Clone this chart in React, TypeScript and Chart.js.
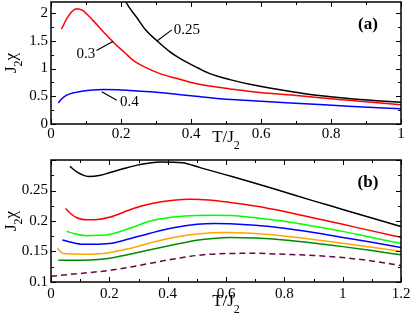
import React, { useEffect, useRef } from "react";
import { Chart, registerables } from "chart.js";

Chart.register(...registerables);

const FONT = '"Liberation Serif", "Times New Roman", serif';

// ---------- Panel (a) data ----------
const A_T_025 = [0.2, 0.214, 0.245, 0.27, 0.302, 0.34, 0.378, 0.42, 0.454, 0.511, 0.597, 0.68, 0.74, 0.85, 0.93, 1.0];
const A_CHI_025 = [2.42, 2.2, 1.92, 1.7, 1.505, 1.3, 1.147, 1.01, 0.908, 0.8, 0.68, 0.59, 0.53, 0.46, 0.42, 0.39];

const A_T_03 = [0.03, 0.045, 0.06, 0.073, 0.09, 0.121, 0.15, 0.178, 0.21, 0.235, 0.27, 0.311, 0.36, 0.407, 0.483, 0.511, 0.597, 0.71, 0.74, 0.85, 1.0];
const A_CHI_03 = [1.71, 1.9, 2.03, 2.08, 2.05, 1.86, 1.66, 1.475, 1.29, 1.147, 1.02, 0.908, 0.82, 0.74, 0.657, 0.633, 0.568, 0.51, 0.49, 0.43, 0.345];

const A_T_04 = [0.021, 0.03, 0.045, 0.07, 0.092, 0.12, 0.15, 0.2, 0.283, 0.4, 0.483, 0.6, 0.74, 0.85, 1.0];
const A_CHI_04 = [0.38, 0.45, 0.52, 0.57, 0.597, 0.613, 0.62, 0.615, 0.58, 0.51, 0.455, 0.41, 0.36, 0.32, 0.275];

const A_NOTE_TEXT = ["0.25", "0.3", "0.4"];
const A_NOTE_X = [0.351, 0.073, 0.197];
const A_NOTE_Y = [1.685, 1.267, 0.4];
const A_LEAD_X0 = [0.302, 0.13, 0.145];
const A_LEAD_Y0 = [1.493, 1.326, 0.58];
const A_LEAD_X1 = [0.345, 0.178, 0.188];
const A_LEAD_Y1 = [1.697, 1.493, 0.43];

// ---------- Panel (b) data ----------
const B_T_1 = [0.065, 0.09, 0.128, 0.17, 0.2, 0.25, 0.3, 0.374, 0.45, 0.511, 0.597, 0.7, 0.8, 0.9, 1.0, 1.1, 1.2];
const B_CHI_1 = [0.2895, 0.28, 0.273, 0.275, 0.279, 0.286, 0.292, 0.2967, 0.2955, 0.2875, 0.276, 0.262, 0.2475, 0.233, 0.219, 0.205, 0.191];

const B_T_2 = [0.05, 0.07, 0.09, 0.122, 0.16, 0.2, 0.285, 0.35, 0.42, 0.477, 0.54, 0.614, 0.7, 0.8, 0.9, 1.0, 1.1, 1.2];
const B_CHI_2 = [0.2205, 0.211, 0.205, 0.202, 0.2025, 0.206, 0.221, 0.229, 0.234, 0.2355, 0.2345, 0.2305, 0.2245, 0.2155, 0.205, 0.1945, 0.1838, 0.1733];

const B_T_3 = [0.054, 0.08, 0.122, 0.16, 0.2, 0.27, 0.34, 0.42, 0.5, 0.56, 0.614, 0.7, 0.8, 0.9, 1.0, 1.1, 1.2];
const B_CHI_3 = [0.1833, 0.179, 0.176, 0.1765, 0.178, 0.188, 0.2, 0.2065, 0.2092, 0.2095, 0.209, 0.2055, 0.1995, 0.1915, 0.183, 0.173, 0.1633];

const B_T_4 = [0.039, 0.07, 0.11, 0.145, 0.2, 0.27, 0.34, 0.42, 0.5, 0.56, 0.614, 0.7, 0.8, 0.9, 1.0, 1.1, 1.2];
const B_CHI_4 = [0.169, 0.165, 0.1618, 0.1617, 0.163, 0.171, 0.18, 0.189, 0.1945, 0.196, 0.1955, 0.193, 0.188, 0.181, 0.173, 0.165, 0.1567];

const B_T_5 = [0.022, 0.03, 0.042, 0.07, 0.11, 0.15, 0.2, 0.27, 0.34, 0.42, 0.51, 0.6, 0.7, 0.8, 0.9, 1.0, 1.1, 1.2];
const B_CHI_5 = [0.1555, 0.151, 0.1467, 0.1458, 0.1455, 0.146, 0.148, 0.155, 0.164, 0.173, 0.179, 0.181, 0.1795, 0.1755, 0.1695, 0.1635, 0.157, 0.15];

const B_T_6 = [0.025, 0.06, 0.11, 0.16, 0.2, 0.27, 0.34, 0.42, 0.5, 0.556, 0.614, 0.7, 0.8, 0.9, 1.0, 1.1, 1.2];
const B_CHI_6 = [0.1355, 0.1355, 0.1358, 0.137, 0.139, 0.1455, 0.153, 0.161, 0.1685, 0.1715, 0.1728, 0.172, 0.169, 0.164, 0.158, 0.1515, 0.1445];

const B_T_7 = [0.0, 0.1, 0.2, 0.3, 0.4, 0.5, 0.6, 0.7, 0.8, 0.9, 1.0, 1.1, 1.2];
const B_CHI_7 = [0.1095, 0.114, 0.119, 0.127, 0.136, 0.1435, 0.1467, 0.147, 0.1455, 0.1435, 0.14, 0.1345, 0.127];

const pts = (xs: number[], ys: number[]) => xs.map((x, i) => ({ x, y: ys[i] }));

const line = (xs: number[], ys: number[], color: string, dash: number[] = []) => ({
  data: pts(xs, ys),
  borderColor: color,
  borderWidth: 1.5,
  borderDash: dash,
  pointRadius: 0,
  fill: false,
  cubicInterpolationMode: "monotone" as const,
});

const fmt = (v: number) => String(Math.round(v * 1000) / 1000);

type PanelProps = {
  top: number;
  height: number;
  datasets: any[];
  xMax: number;
  xLabelStep: number;
  xMinorStep: number;
  yMin: number;
  yMax: number;
  yLabelStep: number;
  yMinorStep: number;
  tag: string;
  xLabelPad: number;
  xTitleOffset: number;
  notes?: {
    text: string[];
    x: number[];
    y: number[];
    x0: number[];
    y0: number[];
    x1: number[];
    y1: number[];
  };
};

function Panel(p: PanelProps) {
  const ref = useRef<HTMLCanvasElement>(null);
  useEffect(() => {
    if (!ref.current) return;
    const decor = {
      id: "decor",
      afterDraw(chart: any) {
        const ctx = chart.ctx as CanvasRenderingContext2D;
        const { left, right, top, bottom } = chart.chartArea;
        const xs = chart.scales.x;
        const ys = chart.scales.y;
        ctx.save();
        ctx.strokeStyle = "#000";
        ctx.fillStyle = "#000";
        ctx.lineWidth = 1.5;
        ctx.strokeRect(left, top, right - left, bottom - top);
        ctx.lineWidth = 1;
        const isMajor = (v: number, step: number) => Math.abs(v / step - Math.round(v / step)) < 1e-6;
        // x ticks
        const nx = Math.floor((xs.max - xs.min) / p.xMinorStep + 1e-6);
        for (let i = 0; i <= nx; i++) {
          const v = xs.min + i * p.xMinorStep;
          const px = Math.round(xs.getPixelForValue(v)) + 0.5;
          const len = isMajor(v, p.xLabelStep) ? 5 : 3;
          ctx.beginPath();
          ctx.moveTo(px, bottom);
          ctx.lineTo(px, bottom - len);
          ctx.moveTo(px, top);
          ctx.lineTo(px, top + len);
          ctx.stroke();
        }
        const ny = Math.floor((ys.max - ys.min) / p.yMinorStep + 1e-6);
        for (let i = 0; i <= ny; i++) {
          const v = ys.min + i * p.yMinorStep;
          const py = Math.round(ys.getPixelForValue(v)) + 0.5;
          const len = isMajor(v - ys.min, p.yLabelStep) ? 5 : 3;
          ctx.beginPath();
          ctx.moveTo(left, py);
          ctx.lineTo(left + len, py);
          ctx.moveTo(right, py);
          ctx.lineTo(right - len, py);
          ctx.stroke();
        }
        // x title T/J2
        const cx = (left + right) / 2;
        const ty = bottom + p.xTitleOffset;
        ctx.font = `17px ${FONT}`;
        ctx.textBaseline = "middle";
        const main = "T/J";
        const wMain = ctx.measureText(main).width;
        ctx.font = `12px ${FONT}`;
        const wSub = ctx.measureText("2").width;
        const x0 = cx - (wMain + wSub) / 2;
        ctx.font = `17px ${FONT}`;
        ctx.textAlign = "left";
        ctx.fillText(main, x0, ty);
        ctx.font = `12px ${FONT}`;
        ctx.fillText("2", x0 + wMain, ty + 8);
        // y title J2χ rotated
        ctx.save();
        ctx.translate(12, (top + bottom) / 2);
        ctx.rotate(-Math.PI / 2);
        ctx.font = `17px ${FONT}`;
        const wJ = ctx.measureText("J").width;
        const wChi = ctx.measureText("χ").width;
        ctx.font = `12px ${FONT}`;
        const w2 = ctx.measureText("2").width;
        const sx = -(wJ + w2 + wChi) / 2;
        ctx.font = `17px ${FONT}`;
        ctx.fillText("J", sx, 0);
        ctx.font = `12px ${FONT}`;
        ctx.fillText("2", sx + wJ, 7);
        ctx.font = `17px ${FONT}`;
        ctx.fillText("χ", sx + wJ + w2, 0);
        ctx.restore();
        // panel tag
        ctx.font = `bold 17px ${FONT}`;
        ctx.textAlign = "center";
        ctx.fillText(p.tag, right - 33, top + 23);
        // notes
        if (p.notes) {
          const n = p.notes;
          ctx.font = `15px ${FONT}`;
          ctx.textAlign = "left";
          ctx.lineWidth = 1.2;
          for (let i = 0; i < n.text.length; i++) {
            ctx.beginPath();
            ctx.moveTo(xs.getPixelForValue(n.x0[i]), ys.getPixelForValue(n.y0[i]));
            ctx.lineTo(xs.getPixelForValue(n.x1[i]), ys.getPixelForValue(n.y1[i]));
            ctx.stroke();
            ctx.fillText(n.text[i], xs.getPixelForValue(n.x[i]), ys.getPixelForValue(n.y[i]));
          }
        }
        ctx.restore();
      },
    };
    const H = p.height;
    const chart = new Chart(ref.current, {
      type: "line",
      data: { datasets: p.datasets },
      options: {
        animation: false,
        responsive: false,
        maintainAspectRatio: false,
        layout: { padding: { left: 0, right: 10, top: 2, bottom: 0 } },
        plugins: { legend: { display: false }, tooltip: { enabled: false } },
        scales: {
          x: {
            type: "linear",
            min: 0,
            max: p.xMax,
            grid: { display: false, drawTicks: false },
            border: { display: false },
            ticks: {
              stepSize: p.xLabelStep,
              includeBounds: false,
              autoSkip: false,
              maxRotation: 0,
              padding: p.xLabelPad,
              color: "#000",
              font: { family: FONT, size: 15 },
              callback: (v: any) => fmt(Number(v)),
            },
            afterFit: (s: any) => {
              s.height = H - 124;
              s.paddingLeft = 0;
              s.paddingRight = 0;
            },
          },
          y: {
            type: "linear",
            min: p.yMin,
            max: p.yMax,
            grid: { display: false, drawTicks: false },
            border: { display: false },
            ticks: {
              stepSize: p.yLabelStep,
              includeBounds: false,
              autoSkip: false,
              padding: 3,
              color: "#000",
              font: { family: FONT, size: 15 },
              callback: (v: any) => (Number(v) > p.yMax - 1e-6 ? "" : fmt(Number(v))),
            },
            afterFit: (s: any) => {
              s.width = 51;
              s.paddingTop = 0;
              s.paddingBottom = 0;
            },
          },
        },
      } as any,
      plugins: [decor],
    });
    return () => chart.destroy();
  }, []);
  return (
    <div style={{ position: "absolute", left: 0, top: p.top, width: 411, height: p.height }}>
      <canvas ref={ref} width={411} height={p.height} style={{ display: "block", width: 411, height: p.height }} />
    </div>
  );
}

export default function App() {
  const dsA = [
    line(A_T_025, A_CHI_025, "#000000"),
    line(A_T_03, A_CHI_03, "#ff0000"),
    line(A_T_04, A_CHI_04, "#0000ff"),
  ];
  const dsB = [
    line(B_T_1, B_CHI_1, "#000000"),
    line(B_T_2, B_CHI_2, "#ff0000"),
    line(B_T_3, B_CHI_3, "#00ff00"),
    line(B_T_4, B_CHI_4, "#0000ff"),
    line(B_T_5, B_CHI_5, "#ffa500"),
    line(B_T_6, B_CHI_6, "#008b00"),
    line(B_T_7, B_CHI_7, "#670748", [6, 4]),
  ];
  return (
    <div style={{ position: "absolute", left: 0, top: 0, width: 411, height: 318, background: "#fff" }}>
      <Panel
        top={0}
        height={158}
        datasets={dsA}
        xMax={1}
        xLabelStep={0.2}
        xMinorStep={0.1}
        yMin={0}
        yMax={2.2}
        yLabelStep={0.5}
        yMinorStep={0.25}
        tag="(a)"
        xLabelPad={1}
        xTitleOffset={14}
        notes={{
          text: A_NOTE_TEXT,
          x: A_NOTE_X,
          y: A_NOTE_Y,
          x0: A_LEAD_X0,
          y0: A_LEAD_Y0,
          x1: A_LEAD_X1,
          y1: A_LEAD_Y1,
        }}
      />
      <Panel
        top={158}
        height={160}
        datasets={dsB}
        xMax={1.2}
        xLabelStep={0.2}
        xMinorStep={0.1}
        yMin={0.1}
        yMax={0.3}
        yLabelStep={0.05}
        yMinorStep={0.025}
        tag="(b)"
        xLabelPad={3}
        xTitleOffset={20}
      />
    </div>
  );
}
